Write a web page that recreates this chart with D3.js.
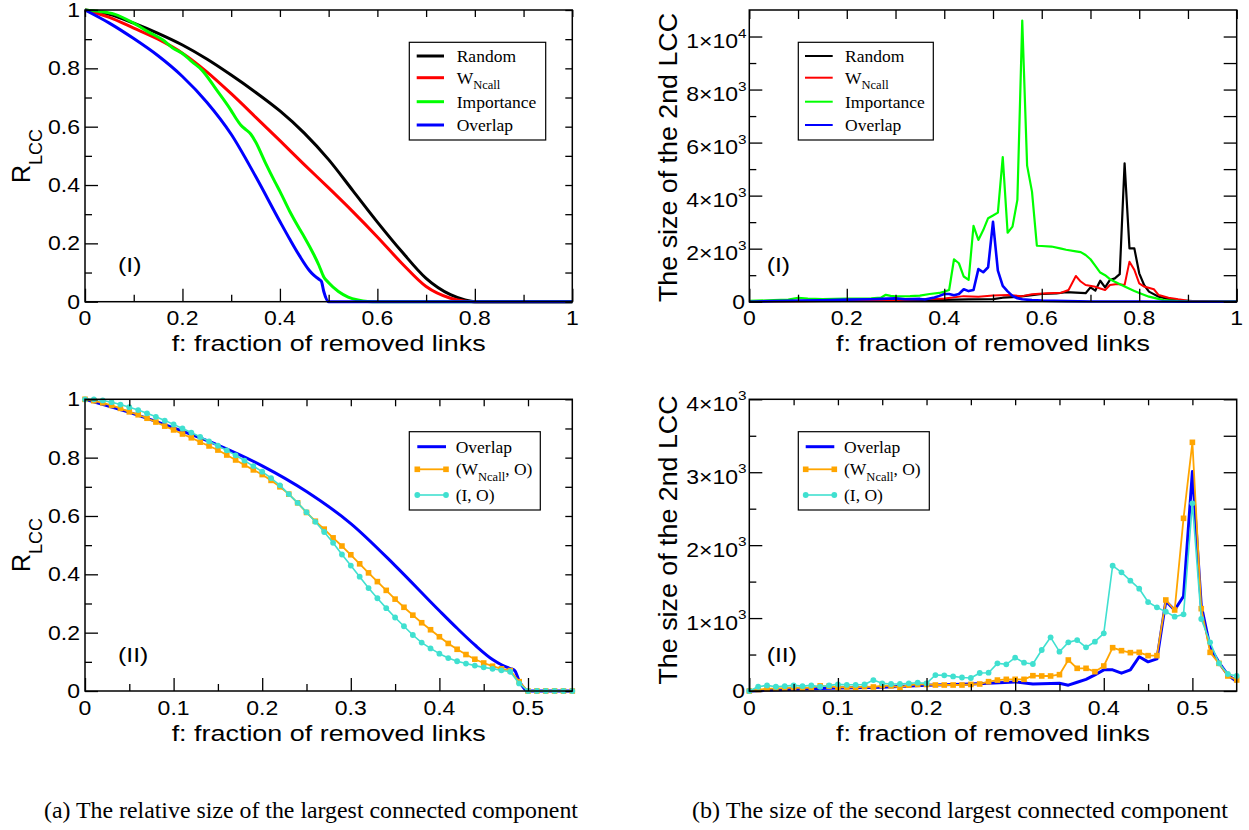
<!DOCTYPE html>
<html><head><meta charset="utf-8">
<script src="https://cdn.jsdelivr.net/npm/d3@7/dist/d3.min.js"></script>
<style>
body{margin:0;background:#fff;}
svg{display:block;}
</style></head><body>
<svg id="c" width="1249" height="830"></svg>
<script>
// ================= DATA =================
// (a)(I): relative size of the LCC vs fraction of removed links
const aRandomF = [0,0.05,0.1,0.15,0.2,0.25,0.3,0.35,0.4,0.45,0.5,0.55,0.6,0.65,0.7,0.75,0.78,0.8,1];
const aRandomR = [1,0.985,0.955,0.92,0.88,0.832,0.777,0.718,0.654,0.578,0.487,0.38,0.273,0.172,0.08,0.024,0.006,0,0];
const aWncallF = [0,0.05,0.1,0.15,0.2,0.25,0.3,0.35,0.4,0.45,0.5,0.55,0.6,0.65,0.7,0.75,0.78,0.8,1];
const aWncallR = [1,0.975,0.938,0.9,0.852,0.788,0.713,0.633,0.552,0.47,0.39,0.308,0.222,0.132,0.052,0.012,0.002,0,0];
const aImpF = [0,0.03,0.06,0.1,0.13,0.16,0.18,0.2,0.22,0.24,0.27,0.3,0.31,0.32,0.33,0.34,0.35,0.37,0.39,0.4,0.42,0.44,0.45,0.47,0.48,0.49,0.5,0.52,0.54,0.56,0.58,0.6,1];
const aImpR = [1,0.995,0.986,0.955,0.925,0.897,0.87,0.851,0.822,0.794,0.726,0.655,0.628,0.605,0.59,0.575,0.548,0.477,0.41,0.378,0.31,0.25,0.222,0.16,0.125,0.085,0.065,0.035,0.016,0.006,0.001,0,0];
const overlapRF = [0,0.05,0.1,0.15,0.2,0.25,0.3,0.35,0.4,0.42,0.44,0.46,0.47,0.48,0.485,0.49,0.5,0.55,1];
const overlapR  = [1,0.955,0.902,0.843,0.772,0.684,0.574,0.43,0.275,0.215,0.158,0.108,0.09,0.077,0.07,0.035,0,0,0];

// (b)(I): size of the 2nd LCC
const bRandomF = [0,0.1,0.2,0.3,0.4,0.45,0.5,0.52,0.55,0.58,0.6,0.63,0.65,0.67,0.69,0.7,0.71,0.72,0.73,0.74,0.75,0.76,0.77,0.78,0.79,0.8,0.81,0.82,0.84,0.86,0.89,0.92,1];
const bRandomV = [10,20,30,50,70,90,100,150,180,250,290,310,360,340,320,540,420,790,540,820,880,1040,5220,2010,2010,1070,630,380,190,100,40,10,0];
const bWncallF = [0,0.1,0.2,0.3,0.4,0.44,0.47,0.5,0.53,0.56,0.58,0.61,0.64,0.655,0.67,0.68,0.69,0.71,0.72,0.73,0.74,0.755,0.77,0.78,0.79,0.8,0.81,0.83,0.84,0.86,0.88,0.9,1];
const bWncallV = [10,20,40,60,120,210,190,230,250,210,280,320,340,440,970,760,630,560,500,440,630,670,630,1510,1200,690,570,470,250,150,90,40,0];
const bImpF = [0,0.05,0.08,0.1,0.12,0.15,0.2,0.25,0.27,0.28,0.29,0.3,0.33,0.35,0.37,0.39,0.4,0.41,0.42,0.43,0.44,0.45,0.46,0.47,0.48,0.49,0.5,0.51,0.52,0.53,0.54,0.55,0.56,0.57,0.58,0.59,0.6,0.62,0.64,0.65,0.67,0.68,0.69,0.7,0.71,0.72,0.73,0.74,0.75,0.77,0.79,0.8,0.82,0.85,0.88,0.9,1];
const bImpV = [30,60,80,150,120,100,120,130,150,260,220,200,210,230,290,330,380,440,1600,1450,950,820,2860,2330,2700,3150,3250,3360,5450,2600,2830,3840,10600,5130,4150,2110,2100,2080,2000,1960,1900,1870,1760,1600,1350,1100,1000,850,750,570,400,330,190,60,25,10,0];
const overlapVF = [0,0.05,0.1,0.15,0.2,0.25,0.27,0.3,0.32,0.35,0.36,0.37,0.38,0.39,0.4,0.41,0.42,0.43,0.44,0.45,0.46,0.47,0.48,0.49,0.5,0.51,0.52,0.53,0.54,0.55,0.56,0.58,0.6,0.65,0.7,0.8,0.9,1];
const overlapV  = [0,25,40,50,80,95,105,125,95,105,80,120,160,220,290,290,245,290,470,400,440,1230,1110,1300,3010,1170,600,390,220,130,90,60,40,20,10,5,0,0];

// (II) panels: combined strategies sampled every 0.01
const fGrid = [0,0.01,0.02,0.03,0.04,0.05,0.06,0.07,0.08,0.09,0.1,0.11,0.12,0.13,0.14,0.15,0.16,0.17,0.18,0.19,0.2,0.21,0.22,0.23,0.24,0.25,0.26,0.27,0.28,0.29,0.3,0.31,0.32,0.33,0.34,0.35,0.36,0.37,0.38,0.39,0.4,0.41,0.42,0.43,0.44,0.45,0.46,0.47,0.48,0.49,0.5,0.51,0.52,0.53,0.54,0.55];
const wnoR = [1,0.995,0.988,0.979,0.969,0.957,0.947,0.935,0.922,0.908,0.895,0.881,0.868,0.853,0.84,0.826,0.809,0.792,0.775,0.758,0.742,0.722,0.7,0.675,0.645,0.612,0.582,0.555,0.525,0.497,0.467,0.436,0.405,0.375,0.345,0.315,0.287,0.26,0.234,0.21,0.186,0.163,0.143,0.125,0.109,0.096,0.085,0.076,0.07,0.032,0,0,0,0,0,0];
const ioR  = [1,1,0.996,0.99,0.982,0.973,0.963,0.952,0.94,0.927,0.914,0.9,0.886,0.871,0.856,0.841,0.825,0.808,0.79,0.771,0.752,0.73,0.705,0.675,0.645,0.613,0.58,0.545,0.508,0.468,0.43,0.392,0.353,0.318,0.284,0.252,0.222,0.192,0.166,0.146,0.128,0.113,0.102,0.094,0.087,0.081,0.076,0.071,0.066,0.026,0,0,0,0,0,0];
const wnoV = [0,20,30,35,40,45,40,45,70,65,50,55,50,60,55,75,70,50,80,90,90,82,82,82,82,90,96,128,150,160,160,160,210,206,206,224,425,311,311,265,343,594,553,526,530,485,485,1248,1111,2368,3410,1129,530,379,206,151];
const ioV  = [0,58,77,58,67,77,67,77,58,77,91,85,85,90,150,105,96,96,105,114,105,219,215,200,185,178,247,251,379,366,457,388,370,562,736,539,667,699,599,676,791,1719,1627,1513,1403,1220,1147,1088,1019,1051,2573,987,667,379,233,206];

// ticks and labels
const xTicksI = [0,0.2,0.4,0.6,0.8,1];
const xTickLabelsI = ["0","0.2","0.4","0.6","0.8","1"];
const xMinorI = [0.1,0.3,0.5,0.7,0.9];
const xTicksII = [0,0.1,0.2,0.3,0.4,0.5];
const xTickLabelsII = ["0","0.1","0.2","0.3","0.4","0.5"];
const xMinorII = [0.05,0.15,0.25,0.35,0.45];
const xTopII = [0.05,0.1,0.15,0.2,0.25,0.3,0.35,0.4,0.45,0.5];
const yTicksR = [0,0.2,0.4,0.6,0.8,1];
const yTickLabelsR = ["0","0.2","0.4","0.6","0.8","1"];
const yMinorR = [0.1,0.3,0.5,0.7,0.9];
const yTicksBI = [0,2000,4000,6000,8000,10000];
const yTickLabelsBI = ["0","2×10^3","4×10^3","6×10^3","8×10^3","1×10^4"];
const yMinorBI = [1000,3000,5000,7000,9000];
const yTicksBII = [0,1000,2000,3000,4000];
const yTickLabelsBII = ["0","1×10^3","2×10^3","3×10^3","4×10^3"];
const yMinorBII = [500,1500,2500,3500];

const captionA = "(a) The relative size of the largest connected component";
const captionB = "(b) The size of the second largest connected component";

// ================= DRAWING =================
const SANS = "'Liberation Sans', Arial, Helvetica, sans-serif";
const SERIF = "'Liberation Serif', 'Times New Roman', serif";
const svg = d3.select('#c');
const SX = 1.18;
const zip = (a, b) => a.map((v, i) => [v, b[i]]);

function panel(box, xDom, yDom) {
  const g = svg.append('g');
  const x = d3.scaleLinear().domain(xDom).range([box.l, box.r]);
  const y = d3.scaleLinear().domain(yDom).range([box.b, box.t]);
  return {g, x, y, box};
}

function series(p, data, color, width, curve) {
  const line = d3.line().x(d => p.x(d[0])).y(d => p.y(d[1])).curve(curve || d3.curveLinear);
  p.g.append('path').datum(data).attr('d', line)
    .attr('fill', 'none').attr('stroke', color).attr('stroke-width', width)
    .attr('stroke-linejoin', 'round');
}
function markers(p, data, color, shape) {
  const sel = p.g.append('g');
  if (shape === 'square') {
    sel.selectAll('rect').data(data).join('rect')
      .attr('x', d => p.x(d[0]) - 2.8).attr('y', d => p.y(d[1]) - 2.8)
      .attr('width', 5.6).attr('height', 5.6).attr('fill', color);
  } else {
    sel.selectAll('circle').data(data).join('circle')
      .attr('cx', d => p.x(d[0])).attr('cy', d => p.y(d[1])).attr('r', 2.9).attr('fill', color);
  }
}

function ticks(p, s) {
  const b = p.box;
  const st = sel => { sel.select('.domain').remove(); sel.selectAll('line').attr('stroke', '#000').attr('stroke-width', 1.3); sel.selectAll('text').remove(); };
  p.g.append('g').attr('transform', `translate(0,${b.b})`).call(d3.axisBottom(p.x).tickValues(s.xMajor).tickSize(-13).tickFormat('')).call(st);
  p.g.append('g').attr('transform', `translate(0,${b.b})`).call(d3.axisBottom(p.x).tickValues(s.xMinor).tickSize(-7).tickFormat('')).call(st);
  p.g.append('g').attr('transform', `translate(${b.l},0)`).call(d3.axisLeft(p.y).tickValues(s.yMajor).tickSize(-13).tickFormat('')).call(st);
  p.g.append('g').attr('transform', `translate(${b.l},0)`).call(d3.axisLeft(p.y).tickValues(s.yMinor).tickSize(-7).tickFormat('')).call(st);
  p.g.append('g').attr('transform', `translate(0,${b.t})`).call(d3.axisTop(p.x).tickValues(s.xTop).tickSize(-s.topLen).tickFormat('')).call(st);
  p.g.append('g').attr('transform', `translate(${b.r},0)`).call(d3.axisRight(p.y).tickValues(s.yRight).tickSize(-s.rightLen).tickFormat('')).call(st);
  p.g.append('rect').attr('x', b.l).attr('y', b.t).attr('width', b.r - b.l).attr('height', b.b - b.t)
    .attr('fill', 'none').attr('stroke', '#000').attr('stroke-width', 1.5);
}

function sansText(g, x, y, anchor, size, sx) {
  return g.append('text').attr('transform', `translate(${x},${y}) scale(${sx},1)`)
    .attr('text-anchor', anchor).attr('font-family', SANS).attr('font-size', size).attr('fill', '#000');
}

function xLabels(p, vals, labels, base) {
  vals.forEach((v, i) => sansText(p.g, p.x(v), base, 'middle', 19.5, SX).text(labels[i]));
}
function yLabels(p, vals, labels, xr) {
  vals.forEach((v, i) => {
    const lab = labels[i];
    if (lab.indexOf('^') < 0) {
      sansText(p.g, xr, p.y(v) + 7, 'end', 19.5, SX).text(lab);
    } else {
      const [m, e] = lab.split('^');
      const t = sansText(p.g, xr + 1.5, p.y(v) + 11.5, 'end', 19.5, SX);
      t.append('tspan').text(m);
      t.append('tspan').attr('font-size', 13).attr('dy', -10.5).text(e);
    }
  });
}
function xTitle(p, base) {
  const cx = (p.box.l + p.box.r) / 2;
  p.g.append('text').attr('x', cx).attr('y', base).attr('text-anchor', 'middle')
    .attr('font-family', SANS).attr('font-size', 22.5)
    .attr('textLength', 314).attr('lengthAdjust', 'spacingAndGlyphs')
    .text('f: fraction of removed links');
}
function yTitleR(p, xb, cy) {
  const t = p.g.append('text').attr('transform', `translate(${xb},${cy}) rotate(-90)`)
    .attr('text-anchor', 'middle').attr('font-family', SANS).attr('font-size', 25);
  t.append('tspan').text('R');
  t.append('tspan').attr('font-size', 18).attr('dy', 11.5).text('LCC');
}
function yTitle2(p, xb, cy) {
  p.g.append('text').attr('transform', `translate(${xb},${cy}) rotate(-90)`)
    .attr('text-anchor', 'middle').attr('font-family', SANS).attr('font-size', 25.5)
    .attr('textLength', 289).attr('lengthAdjust', 'spacingAndGlyphs')
    .text('The size of the 2nd LCC');
}
function tag(p, x, y, s) { sansText(p.g, x, y, 'start', 21, SX).text(s); }

function legend(p, bx, lx0, lx1, tx, rows) {
  p.g.append('rect').attr('x', bx.x0).attr('y', bx.y0).attr('width', bx.x1 - bx.x0).attr('height', bx.y1 - bx.y0)
    .attr('fill', '#fff').attr('stroke', '#000').attr('stroke-width', 1.2);
  rows.forEach(r => {
    p.g.append('line').attr('x1', lx0).attr('x2', lx1).attr('y1', r.y).attr('y2', r.y)
      .attr('stroke', r.color).attr('stroke-width', r.width);
    if (r.marker === 'square') {
      [lx0, lx1].forEach(xx => p.g.append('rect').attr('x', xx - 2.8).attr('y', r.y - 2.8).attr('width', 5.6).attr('height', 5.6).attr('fill', r.color));
    } else if (r.marker === 'circle') {
      [lx0, lx1].forEach(xx => p.g.append('circle').attr('cx', xx).attr('cy', r.y).attr('r', 2.9).attr('fill', r.color));
    }
    const t = p.g.append('text').attr('x', tx).attr('y', r.y + 5.8).attr('font-family', SERIF).attr('font-size', 17.5).attr('fill', '#000');
    let sub = false;
    r.parts.forEach(pt => {
      const ts = t.append('tspan').text(pt[0]);
      if (pt[1] === 'sub') { ts.attr('font-size', 12.5).attr('dy', 5.5); sub = true; }
      else if (sub) { ts.attr('dy', -5.5); sub = false; }
    });
  });
}

// ---------- Panel (a)(I) ----------
const pA1 = panel({l: 85, r: 572.3, t: 10, b: 301.7}, [0, 1], [0, 1]);
series(pA1, zip(aRandomF, aRandomR), '#000000', 3, d3.curveMonotoneX);
series(pA1, zip(aWncallF, aWncallR), '#ff0000', 3, d3.curveMonotoneX);
series(pA1, zip(aImpF, aImpR), '#00ff00', 3, d3.curveMonotoneX);
series(pA1, zip(overlapRF, overlapR), '#0000ff', 3, d3.curveMonotoneX);
ticks(pA1, {xMajor: xTicksI, xMinor: xMinorI, yMajor: yTicksR, yMinor: yMinorR,
  xTop: xMinorI.concat(xTicksI), topLen: 7, yRight: yMinorR.concat(yTicksR), rightLen: 7});
xLabels(pA1, xTicksI, xTickLabelsI, 325);
yLabels(pA1, yTicksR, yTickLabelsR, 80);
xTitle(pA1, 350.5);
yTitleR(pA1, 30, 156);
tag(pA1, 118, 271.7, '(I)');
legend(pA1, {x0: 409.3, y0: 42.3, x1: 545.7, y1: 140}, 416.7, 444, 456.7, [
  {y: 56, color: '#000000', width: 3, parts: [['Random']]},
  {y: 77.7, color: '#ff0000', width: 3, parts: [['W'], ['Ncall', 'sub']]},
  {y: 101.7, color: '#00ff00', width: 3, parts: [['Importance']]},
  {y: 125, color: '#0000ff', width: 3, parts: [['Overlap']]}
]);

// ---------- Panel (b)(I) ----------
const pB1 = panel({l: 749.3, r: 1236.7, t: 10, b: 301.7}, [0, 1], [0, 11000]);
series(pB1, zip(bRandomF, bRandomV), '#000000', 2.2);
series(pB1, zip(bWncallF, bWncallV), '#ff0000', 2);
series(pB1, zip(bImpF, bImpV), '#00ff00', 2.2);
series(pB1, zip(overlapVF, overlapV), '#0000ff', 2.6);
ticks(pB1, {xMajor: xTicksI, xMinor: xMinorI, yMajor: yTicksBI, yMinor: yMinorBI,
  xTop: xMinorI.concat(xTicksI), topLen: 9, yRight: yMinorBI.concat(yTicksBI), rightLen: 13});
xLabels(pB1, xTicksI, xTickLabelsI, 325);
yLabels(pB1, yTicksBI, yTickLabelsBI, 745);
xTitle(pB1, 350.5);
yTitle2(pB1, 676.7, 157.5);
tag(pB1, 766.7, 271.7, '(I)');
legend(pB1, {x0: 798.3, y0: 42.3, x1: 933.3, y1: 140}, 805, 832.7, 845, [
  {y: 56, color: '#000000', width: 2, parts: [['Random']]},
  {y: 77.7, color: '#ff0000', width: 2, parts: [['W'], ['Ncall', 'sub']]},
  {y: 101.7, color: '#00ff00', width: 2, parts: [['Importance']]},
  {y: 125, color: '#0000ff', width: 2, parts: [['Overlap']]}
]);

// ---------- Panel (a)(II) ----------
const pA2 = panel({l: 85, r: 572.3, t: 399.3, b: 691}, [0, 0.55], [0, 1]);
series(pA2, zip(overlapRF, overlapR).filter(d => d[0] <= 0.55), '#0000ff', 3, d3.curveMonotoneX);
series(pA2, zip(fGrid, wnoR), '#ffa500', 1.8);
markers(pA2, zip(fGrid, wnoR), '#ffa500', 'square');
series(pA2, zip(fGrid, ioR), '#40e0d0', 1.6);
markers(pA2, zip(fGrid, ioR), '#40e0d0', 'circle');
ticks(pA2, {xMajor: xTicksII, xMinor: xMinorII, yMajor: yTicksR, yMinor: yMinorR,
  xTop: xTopII, topLen: 7, yRight: yMinorR.concat(yTicksR), rightLen: 7});
xLabels(pA2, xTicksII, xTickLabelsII, 715);
yLabels(pA2, yTicksR, yTickLabelsR, 80);
xTitle(pA2, 741);
yTitleR(pA2, 30, 545);
tag(pA2, 118, 661.7, '(II)');
legend(pA2, {x0: 409.3, y0: 431.7, x1: 540.3, y1: 510}, 417.3, 446, 455.7, [
  {y: 446.7, color: '#0000ff', width: 3, parts: [['Overlap']]},
  {y: 469.3, color: '#ffa500', width: 1.8, marker: 'square', parts: [['(W'], ['Ncall', 'sub'], [', O)']]},
  {y: 495, color: '#40e0d0', width: 1.6, marker: 'circle', parts: [['(I, O)']]}
]);

// ---------- Panel (b)(II) ----------
const pB2 = panel({l: 749.3, r: 1236.7, t: 399.3, b: 691}, [0, 0.55], [0, 4000]);
series(pB2, zip(overlapVF, overlapV).filter(d => d[0] <= 0.55), '#0000ff', 3);
series(pB2, zip(fGrid, wnoV), '#ffa500', 1.8);
markers(pB2, zip(fGrid, wnoV), '#ffa500', 'square');
series(pB2, zip(fGrid, ioV), '#40e0d0', 1.6);
markers(pB2, zip(fGrid, ioV), '#40e0d0', 'circle');
ticks(pB2, {xMajor: xTicksII, xMinor: xMinorII, yMajor: yTicksBII, yMinor: yMinorBII,
  xTop: xTopII, topLen: 6, yRight: yMinorBII.concat(yTicksBII), rightLen: 13});
xLabels(pB2, xTicksII, xTickLabelsII, 715);
yLabels(pB2, yTicksBII, yTickLabelsBII, 745);
xTitle(pB2, 741);
yTitle2(pB2, 676.7, 540);
tag(pB2, 766.7, 661.7, '(II)');
legend(pB2, {x0: 798.3, y0: 431.7, x1: 929.3, y1: 510}, 805.7, 834.3, 844, [
  {y: 446.7, color: '#0000ff', width: 3, parts: [['Overlap']]},
  {y: 469.3, color: '#ffa500', width: 1.8, marker: 'square', parts: [['(W'], ['Ncall', 'sub'], [', O)']]},
  {y: 495, color: '#40e0d0', width: 1.6, marker: 'circle', parts: [['(I, O)']]}
]);

// ---------- Captions ----------
svg.append('text').attr('x', 44).attr('y', 818).attr('font-family', SERIF).attr('font-size', 22.5)
  .attr('textLength', 534).attr('lengthAdjust', 'spacingAndGlyphs').text(captionA);
svg.append('text').attr('x', 692).attr('y', 818).attr('font-family', SERIF).attr('font-size', 22.5)
  .attr('textLength', 536).attr('lengthAdjust', 'spacingAndGlyphs').text(captionB);
</script>
</body></html>
